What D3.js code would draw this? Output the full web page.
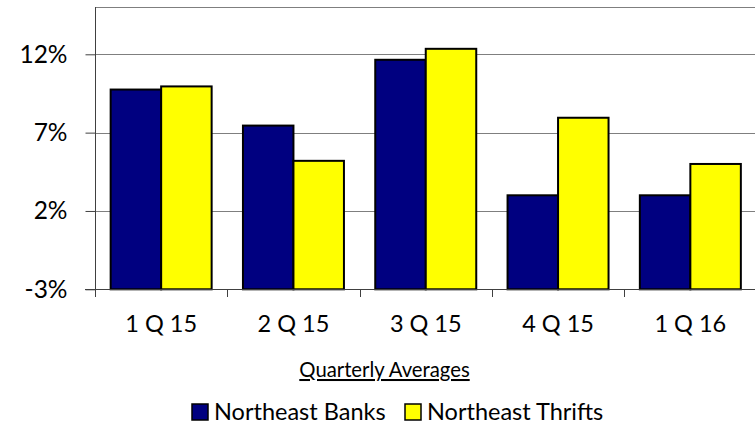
<!DOCTYPE html>
<html>
<head>
<meta charset="utf-8">
<script src="https://cdn.jsdelivr.net/npm/d3@7"></script>
<style>
  body { margin: 0; background: #fff; }
  text { font-family: Lato, "Open Sans", sans-serif; fill: #000; }
</style>
</head>
<body>
<svg width="755" height="427"></svg>
<script>
// chart data
let quarters = ["1 Q 15", "2 Q 15", "3 Q 15", "4 Q 15", "1 Q 16"];
let seriesNames = ["Northeast Banks", "Northeast Thrifts"];
let banks = [9.75, 7.45, 11.65, 3.0, 3.0];
let thrifts = [9.95, 5.2, 12.35, 7.95, 5.0];
let yTicks = [-3, 2, 7, 12];
let xTitle = "Quarterly Averages";

let colors = ["#000080", "#ffff00"];

let svg = d3.select("svg");

let x = d3.scaleBand()
  .domain(quarters)
  .range([95, 756.5]);

let xSub = d3.scaleBand()
  .domain(seriesNames)
  .range([0, x.bandwidth()])
  .paddingOuter(0.31);

let y = d3.scaleLinear()
  .domain([-3, 15])
  .range([289.3, 7.3]);

// gridlines + top border
let grid = svg.append("g");
grid.selectAll("line")
  .data(yTicks.concat([15]))
  .enter().append("line")
    .attr("x1", 95)
    .attr("x2", 756.5)
    .attr("y1", d => Math.round(y(d)) + 0.5)
    .attr("y2", d => Math.round(y(d)) + 0.5)
    .attr("stroke", "#7f7f7f")
    .attr("stroke-width", 1.2);

// bars
let rows = quarters.map((q, i) => ({ q: q, vals: [banks[i], thrifts[i]] }));

svg.append("g")
  .selectAll("g")
  .data(rows)
  .enter().append("g")
    .attr("transform", d => "translate(" + x(d.q) + ",0)")
  .selectAll("rect")
  .data(d => d.vals.map((v, j) => ({ name: seriesNames[j], v: v, j: j })))
  .enter().append("rect")
    .attr("x", d => xSub(d.name))
    .attr("width", xSub.bandwidth())
    .attr("y", d => y(d.v))
    .attr("height", d => y(-3) - y(d.v))
    .attr("fill", d => colors[d.j])
    .attr("stroke", "#000")
    .attr("stroke-width", 2);

// y axis
let yAxis = svg.append("g")
  .attr("transform", "translate(95.5,0)")
  .call(d3.axisLeft(y)
    .tickValues(yTicks)
    .tickSize(10)
    .tickPadding(18)
    .tickFormat(d => d + "%"));
yAxis.select(".domain").remove();
yAxis.selectAll(".tick line").attr("stroke", "#404040");
yAxis.selectAll(".tick text")
  .attr("font-size", 24.5)
  .attr("font-family", "Lato, sans-serif");
yAxis.append("line")
  .attr("x1", 0).attr("x2", 0)
  .attr("y1", 7).attr("y2", 297)
  .attr("stroke", "#404040");

// x axis: boundary ticks, labels centred
let xg = svg.append("g");
xg.append("line")
  .attr("x1", 85).attr("x2", 756.5)
  .attr("y1", 289.5).attr("y2", 289.5)
  .attr("stroke", "#404040");
xg.selectAll("line.tk")
  .data(quarters.slice(1).concat(["end"]))
  .enter().append("line")
    .attr("class", "tk")
    .attr("x1", (d, i) => Math.round(x(quarters[0]) + x.step() * (i + 1)) + 0.5)
    .attr("x2", (d, i) => Math.round(x(quarters[0]) + x.step() * (i + 1)) + 0.5)
    .attr("y1", 289)
    .attr("y2", 297)
    .attr("stroke", "#404040");
xg.selectAll("text")
  .data(quarters)
  .enter().append("text")
    .attr("x", d => x(d) + x.bandwidth() / 2)
    .attr("y", 332)
    .attr("text-anchor", "middle")
    .attr("font-size", 23.5)
    .text(d => d);

svg.append("text")
  .attr("x", 384.5)
  .attr("y", 377)
  .attr("text-anchor", "middle")
  .attr("font-size", 20.3)
  .attr("text-decoration", "underline")
  .text(xTitle);

// legend
let legend = svg.append("g");
let legendX = [192, 405];
seriesNames.forEach((name, i) => {
  legend.append("rect")
    .attr("x", legendX[i])
    .attr("y", 404)
    .attr("width", 16)
    .attr("height", 16)
    .attr("fill", colors[i])
    .attr("stroke", "#000")
    .attr("stroke-width", 1.5);
  legend.append("text")
    .attr("x", legendX[i] + 22)
    .attr("y", 420)
    .attr("font-size", 23.5)
    .text(name);
});
</script>
</body>
</html>
